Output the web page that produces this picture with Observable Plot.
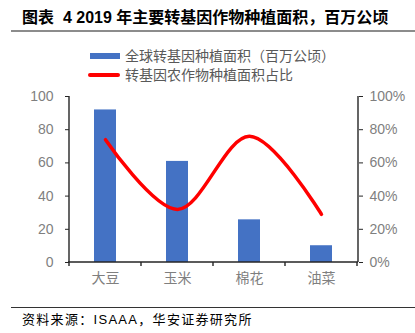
<!DOCTYPE html>
<html><head><meta charset="utf-8">
<script src="https://cdn.jsdelivr.net/npm/d3@7"></script>
<script src="https://cdn.jsdelivr.net/npm/@observablehq/plot@0.6"></script>
<style>
body{margin:0;background:#fff;}
#wrap{position:relative;width:415px;height:333px;overflow:hidden;font-family:"Noto Sans CJK SC",sans-serif;background:#fff;}
#title{position:absolute;left:22px;top:6px;font-size:16px;font-weight:bold;color:#000;white-space:pre;font-family:"Liberation Sans","Noto Sans CJK SC",sans-serif;line-height:24px;}
#tline{position:absolute;left:11px;right:0;top:30px;height:2px;background:#8c8c8c;}
#legend{position:absolute;left:88px;top:46px;font-size:14px;color:#595959;line-height:19px;}
.li{position:relative;height:19px;white-space:nowrap;}
.sw{position:absolute;left:2px;top:7px;width:30px;height:6px;background:#4472C4;}
.sw2{position:absolute;left:0px;top:8px;width:32px;height:4px;background:#FF0000;border-radius:2px;}
.lt{position:absolute;left:37px;top:0;}
#chart{position:absolute;left:0;top:85px;}
#bline{position:absolute;left:11px;right:0;top:307px;height:1px;background:#333;}
#caption{position:absolute;left:22px;top:311px;font-size:13px;color:#000;white-space:nowrap;letter-spacing:1.3px;font-family:"Liberation Sans","Noto Sans CJK SC",sans-serif;line-height:18px;}
</style></head>
<body>
<div id="wrap">
  <div id="title">图表  4 2019 年主要转基因作物种植面积，百万公顷</div>
  <div id="tline"></div>
  <div id="legend"></div>
  <div id="chart"></div>
  <div id="bline"></div>
  <div id="caption">资料来源：ISAAA，华安证券研究所</div>
</div>
<script>
const categories = ["大豆", "玉米", "棉花", "油菜"];
const areaValues = [91.9, 60.9, 25.7, 10.1];      // 百万公顷
const shareValues = [74, 32, 76, 29];             // %
const leftTicks = [0, 20, 40, 60, 80, 100];
const rightTicks = [0, 20, 40, 60, 80, 100];
const seriesNames = ["全球转基因种植面积（百万公顷）", "转基因农作物种植面积占比"];

const data = categories.map((c, i) => ({cat: c, area: areaValues[i], share: shareValues[i]}));

// legend
const legend = document.getElementById("legend");
legend.innerHTML =
  `<div class="li"><span class="sw"></span><span class="lt">${seriesNames[0]}</span></div>` +
  `<div class="li"><span class="sw2"></span><span class="lt">${seriesNames[1]}</span></div>`;

function axesFrame(index, scales, values, dims) {
  const ns = "http://www.w3.org/2000/svg";
  const x = scales.x;
  const L = dims.marginLeft, R = dims.width - dims.marginRight;
  const T = dims.marginTop, B = dims.height - dims.marginBottom;
  const step = (x && x.step) ? x.step() : (R - L) / categories.length;
  const bw = (x && x.bandwidth) ? x.bandwidth() : 0;
  const bounds = categories.map(c => x(c) + bw / 2 - step / 2);
  bounds.push(x(categories[categories.length - 1]) + bw / 2 + step / 2);
  let d = `M${L},${T}V${B}M${R},${T}V${B}M${L - 1},${B}H${R}`;
  bounds.forEach(b => { d += `M${b},${B}v4`; });
  const p = document.createElementNS(ns, "path");
  p.setAttribute("d", d);
  p.setAttribute("stroke", "#262626");
  p.setAttribute("stroke-width", "1.4");
  p.setAttribute("fill", "none");
  return p;
}

const plot = Plot.plot({
  width: 415,
  height: 215,
  marginLeft: 69,
  marginRight: 57,
  marginTop: 11,
  marginBottom: 38,
  style: {fontFamily: "'Liberation Sans','Noto Sans CJK SC',sans-serif", background: "transparent"},
  x: {domain: categories, paddingInner: 0.69, paddingOuter: 0.345, label: null, axis: null},
  y: {domain: [0, 100], label: null, axis: null},
  marks: [
    Plot.barY(data, {x: "cat", y: "area", fill: "#4472C4"}),
    Plot.line(data, {x: "cat", y: "share", stroke: "#FF0000", strokeWidth: 3.5, curve: "catmull-rom", strokeLinecap: "round"}),
    axesFrame,
    Plot.axisY(leftTicks, {anchor: "left", tickSize: 4, tickPadding: 12, fontSize: 14, fill: "#7f7f7f", stroke: "#262626", label: null}),
    Plot.axisY(rightTicks, {anchor: "right", tickSize: 4, tickPadding: 7, fontSize: 14, fill: "#7f7f7f", stroke: "#262626", tickFormat: d => d + "%", label: null}),
    Plot.axisX({tickSize: 0, tickPadding: 11, fontSize: 14, fill: "#7f7f7f", label: null})
  ]
});
document.getElementById("chart").appendChild(plot);
</script>
</body></html>
